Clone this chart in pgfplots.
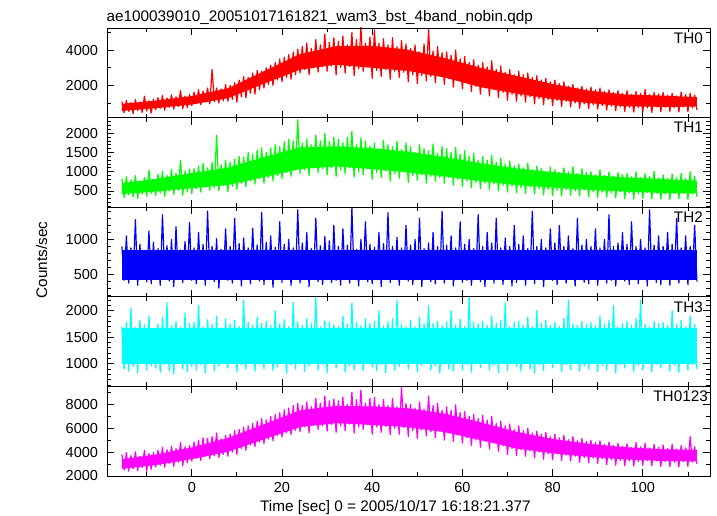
\documentclass[border=0pt]{standalone}
\usepackage{fontspec}
\setmainfont{Liberation Sans}
\usepackage{pgfplots}
\usepackage{pgfplotstable}
\pgfplotsset{compat=1.18}
\definecolor{qred}{RGB}{255,0,0}
\definecolor{qgreen}{RGB}{0,255,0}
\definecolor{qblue}{RGB}{0,0,255}
\definecolor{qcyan}{RGB}{0,255,255}
\definecolor{qmagenta}{RGB}{255,0,255}

% t, TH0, TH1, TH2, TH3, TH0123 (counts/sec), sampled every 0.5 s
\pgfplotstableread{
t a b c d e
-15.5 1080 820 900 1700 3800
-15.0 450 330 420 900 2500
-14.5 1150 870 1050 1780 3950
-14.0 520 400 380 860 2400
-13.5 1020 790 880 2050 3700
-13.0 400 350 460 950 2600
-12.5 1190 900 1280 1690 4020
-12.0 580 310 350 830 2450
-11.5 1060 760 930 1820 3650
-11.0 470 420 440 1000 2700
-10.5 1380 850 830 1730 4150
-10.0 540 360 400 880 2380
-9.5 1120 1040 1120 1900 3880
-9.0 430 440 370 960 2550
-8.5 1210 800 960 1660 3960
-8.0 620 380 430 920 2750
-7.5 1300 930 870 1750 4150
-7.0 700 450 350 840 2900
-6.5 1420 1010 1350 1880 4400
-6.0 590 360 470 990 2720
-5.5 1280 900 910 2150 4200
-5.0 760 500 410 870 3050
-4.5 1460 1060 1000 1720 4500
-4.0 650 410 330 810 2800
-3.5 1350 960 1180 1800 4300
-3.0 800 520 450 1020 3150
-2.5 1700 1300 850 1690 4800
-2.0 680 390 390 900 2850
-1.5 1400 1020 970 1950 4450
-1.0 740 480 460 850 3100
-0.5 1480 1070 1240 1760 4550
0.0 850 430 420 950 3250
0.5 1620 1080 880 1780 4850
1.0 980 560 370 880 3500
1.5 1750 1150 1100 2100 5000
2.0 900 470 440 990 3300
2.5 1680 1220 930 1700 5200
3.0 1060 600 350 830 3650
3.5 1850 1100 1400 1830 5150
4.0 950 520 480 1040 3450
4.5 2900 1240 900 1740 5300
5.0 1090 580 400 870 3700
5.5 1850 1950 1010 1900 5600
6.0 1000 510 310 960 3550
6.5 1800 1180 860 1680 5100
7.0 1120 640 450 1010 3800
7.5 2050 1300 1150 1850 5400
8.0 1100 480 420 920 3650
8.5 2000 1250 900 1750 5500
9.0 1200 620 380 1060 4000
9.5 2150 1330 1300 1820 5800
10.0 1050 550 460 850 3800
10.5 2300 1400 940 1700 5900
11.0 1350 700 340 980 4300
11.5 2500 1380 1020 2200 6100
12.0 1300 610 430 900 4150
12.5 2450 1500 880 1780 6200
13.0 1550 760 370 1050 4600
13.5 2700 1450 1160 1730 6400
14.0 1500 680 480 860 4450
14.5 2850 1560 920 1880 6600
15.0 1750 820 410 990 4850
15.5 2800 1620 1380 1760 6800
16.0 1850 700 360 900 4700
16.5 3000 1500 960 1800 6700
17.0 2050 850 440 1020 5100
17.5 3150 1620 1050 1720 7000
18.0 2000 760 320 870 4950
18.5 3300 1700 890 2000 7150
19.0 2300 900 470 940 5400
19.5 3500 1650 1250 1750 7300
20.0 2200 820 390 1060 5250
20.5 3600 1780 930 1830 7550
21.0 2450 980 430 820 5600
21.5 3750 1850 1000 1700 7700
22.0 2350 880 350 980 5450
22.5 3900 1800 880 2150 7900
23.0 2600 1050 460 900 5800
23.5 4050 2350 1420 1790 8100
24.0 2700 950 380 1000 5700
24.5 4200 1750 950 1720 7900
25.0 2900 1050 450 860 6100
25.5 4400 1850 1100 1850 8200
26.0 2600 900 330 950 5600
26.5 4100 1700 870 1760 7800
27.0 3000 1100 470 1070 6250
27.5 4600 1950 1300 2250 8500
28.0 2750 980 400 880 5900
28.5 4300 1800 910 1700 8100
29.0 3050 1080 360 990 6200
29.5 4900 2000 1040 1810 8700
30.0 2800 920 440 830 5750
30.5 4450 1780 980 1780 8300
31.0 3100 1100 390 1030 6300
31.5 4700 1900 1200 1730 8450
32.0 2600 880 420 920 5650
32.5 4500 1850 900 1700 8300
33.0 3000 1050 350 1000 6200
33.5 4800 1750 1150 1900 8600
34.0 2700 950 470 850 5800
34.5 4300 1900 920 1750 8000
35.0 3080 1100 380 960 6350
35.5 5000 2050 1450 2150 9000
36.0 2550 860 430 890 5600
36.5 4600 1700 860 1780 8400
37.0 2950 1000 340 1050 6100
37.5 5300 1880 1000 1720 9200
38.0 2800 920 460 870 5900
38.5 4400 1800 1250 1850 8100
39.0 3050 1080 400 1000 6300
39.5 4750 1660 930 1760 8500
40.0 2400 800 370 940 5500
40.5 5150 1750 890 1800 8600
41.0 2850 980 450 870 6100
41.5 4400 1600 1100 2000 8000
42.0 2500 850 330 990 5650
42.5 4650 1820 940 1710 8400
43.0 2900 1020 470 830 6150
43.5 4300 1700 1380 1790 7900
44.0 2350 760 390 1020 5450
44.5 4700 1650 900 1850 8500
45.0 2800 950 430 880 6000
45.5 4200 1800 1030 2200 7800
46.0 2450 830 350 950 5500
46.5 4550 1580 880 1740 9450
47.0 2750 1000 460 1060 6050
47.5 4350 1750 1200 1700 8100
48.0 2200 720 410 900 5300
48.5 4100 1650 920 1820 8000
49.0 2600 900 360 1000 5800
49.5 4300 1500 1000 1700 7700
50.0 2100 780 450 850 5150
50.5 3900 1700 1300 1880 8200
51.0 2550 920 330 970 5850
51.5 4350 1600 870 1750 7600
52.0 2250 700 470 1040 5350
52.5 5200 1550 950 2100 8700
53.0 2500 880 400 880 5700
53.5 3950 1720 1100 1760 7900
54.0 2150 760 370 960 5200
54.5 4200 1480 900 1800 8100
55.0 2600 850 440 830 5750
55.5 3850 1650 1400 1720 7500
56.0 2050 700 380 1000 5000
56.5 3900 1600 920 1790 7800
57.0 2400 850 450 900 5600
57.5 3700 1500 1050 2000 7500
58.0 1900 650 340 860 4900
58.5 4000 1630 880 1730 7950
59.0 2300 800 460 1030 5450
59.5 3500 1450 1250 1840 7300
60.0 1800 620 390 880 4750
60.5 3650 1550 930 1700 7400
61.0 2150 760 420 990 5200
61.5 3300 1400 1000 2250 7000
62.0 1650 580 350 840 4550
62.5 3450 1480 870 1780 7150
63.0 1950 720 470 1000 5000
63.5 3150 1300 1350 1750 6800
64.0 1500 560 400 930 4400
64.5 3300 1400 900 1800 7100
65.0 1850 700 330 1050 4900
65.5 3050 1300 1100 1720 6700
66.0 1400 540 450 880 4250
66.5 3400 1420 950 1900 7000
67.0 1750 680 380 970 4800
67.5 2900 1250 1300 1760 6400
68.0 1300 500 430 830 4050
68.5 3100 1350 880 1820 6600
69.0 1600 640 360 1010 4500
69.5 2750 1200 1020 2150 6200
70.0 1150 470 470 870 3800
70.5 2900 1280 900 1700 6350
71.0 1500 620 340 990 4300
71.5 2600 1150 1200 1780 5900
72.0 1100 450 390 950 3700
72.5 2800 1200 930 1800 6200
73.0 1400 580 440 860 4200
73.5 2600 1100 1050 1730 5800
74.0 1050 430 350 1040 3650
74.5 2700 1220 870 1880 6000
75.0 1350 600 460 900 4100
75.5 2450 1050 1400 1700 5600
76.0 950 420 370 820 3500
76.5 2550 1150 900 2000 5750
77.0 1250 560 430 980 4000
77.5 2300 1080 1000 1760 5500
78.0 900 400 330 870 3400
78.5 2400 1000 880 1820 5650
79.0 1200 540 470 1060 3850
79.5 2200 1120 1150 1720 5300
80.0 850 380 420 930 3350
80.5 2300 1050 950 1780 5500
81.0 1150 520 360 1000 3850
81.5 2100 980 1200 1700 5200
82.0 800 370 450 850 3300
82.5 2200 1100 900 1850 5400
83.0 1100 540 380 980 3750
83.5 1950 1000 1050 2200 5050
84.0 780 390 460 890 3250
84.5 2050 1130 870 1750 5300
85.0 1000 500 340 1030 3650
85.5 1850 960 1300 1720 4950
86.0 700 370 430 860 3150
86.5 1950 1080 920 1800 5150
87.0 950 530 390 960 3550
87.5 1800 990 1000 1740 4900
88.0 680 350 370 900 3100
88.5 1900 1000 900 1780 5000
89.0 900 480 450 1000 3500
89.5 1750 920 1150 1720 4800
90.0 650 330 350 850 3050
90.5 1850 1050 880 1900 4950
91.0 850 470 460 970 3450
91.5 1650 900 1000 1750 4650
92.0 600 340 380 880 2950
92.5 1750 1000 1350 1820 4850
93.0 820 450 420 1040 3350
93.5 1600 890 900 2100 4550
94.0 560 320 340 830 2900
94.5 1700 980 950 1700 4750
95.0 780 490 470 990 3300
95.5 1550 930 1100 1760 4500
96.0 520 300 410 920 2850
96.5 1700 960 930 1800 4700
97.0 760 450 360 1010 3250
97.5 1500 870 1250 1730 4400
98.0 480 290 450 860 2830
98.5 1650 1000 900 1850 4800
99.0 740 430 370 970 3200
99.5 1550 850 1000 2200 4450
100.0 500 310 470 880 2900
100.5 1780 950 880 1750 4750
101.0 720 460 340 1020 3300
101.5 1480 880 1420 1700 4350
102.0 460 300 430 850 2850
102.5 1600 1010 920 1800 4650
103.0 780 440 390 990 3250
103.5 1520 840 1050 1760 4400
104.0 500 290 360 920 2800
104.5 1600 920 900 1780 4600
105.0 760 420 450 1030 3200
105.5 1450 820 1100 1720 4300
106.0 520 280 350 860 2780
106.5 1550 940 930 2000 4650
107.0 740 430 460 970 3150
107.5 1400 850 1300 1750 4250
108.0 490 300 380 840 2760
108.5 1620 960 880 1820 4550
109.0 770 440 440 1000 3200
109.5 1480 830 1050 1700 4350
110.0 510 280 360 880 2800
110.5 1550 1000 900 1900 5300
111.0 720 420 470 990 3150
111.5 1450 880 1200 1740 4450
112.0 600 350 400 900 3000
}\data

\pgfplotsset{
  panel/.style={
    anchor=south west, width=603pt, height=89.6pt, scale only axis,
    xmin=-18.8, xmax=114.9,
    xtick={0,20,40,60,80,100}, minor xtick={-10,10,30,50,70,90,110},
    xticklabels={},
    tick pos=both, tick align=inside,
    major tick length=7pt, minor tick length=4pt,
    every tick/.style={black, line width=0.8pt},
    axis line style={black, line width=0.9pt},
    tick label style={font=\fontsize{14.5}{16}\selectfont},
    yticklabel style={xshift=-5.5pt},
    xticklabel style={yshift=-3pt},
    axis on top,
    /pgf/number format/assume math mode=true,
  },
  zig/.style={line width=1.2pt, line join=round, mark=none},
}

\begin{document}
\begin{tikzpicture}
\useasboundingbox (0,0) rectangle (717pt,516pt);

% ---- TH0
\begin{axis}[panel, at={(107pt,398.4pt)},
  ymin=170, ymax=5257,
  ytick={2000,4000}, yticklabels={2000,4000},
  minor ytick={1000,3000,5000}]
\addplot[draw=none, fill=qred] coordinates {
(-15.5,950) (-8,1135) (0,1390) (8,1830) (16,2800) (24,3770) (32,4225) (40,4245)
(48,4020) (56,3550) (64,3000) (72,2530) (80,2075) (88,1700) (96,1485) (104,1420) (112,1330)
(112,790) (104,780) (96,815) (88,1000) (80,1225) (72,1530) (64,1900) (56,2450)
(48,2820) (40,2995) (32,3175) (24,2890) (16,2100) (8,1270) (0,910) (-8,705) (-15.5,550)
} -- cycle;
\addplot[zig, qred] table[x=t, y=a] {\data};
\end{axis}

% ---- TH1
\begin{axis}[panel, at={(107pt,308.8pt)},
  ymin=79, ymax=2406,
  ytick={500,1000,1500,2000}, yticklabels={500,1000,1500,2000},
  minor ytick={100,200,...,2400}]
\addplot[draw=none, fill=qgreen] coordinates {
(-15.5,700) (-8,815) (0,965) (8,1105) (16,1380) (24,1630) (32,1660) (40,1610)
(48,1520) (56,1380) (64,1220) (72,1085) (80,990) (88,910) (96,855) (104,810) (112,765)
(112,435) (104,450) (96,485) (88,530) (80,590) (72,655) (64,760) (56,880)
(48,980) (40,1070) (32,1140) (24,1070) (16,860) (8,655) (0,575) (-8,485) (-15.5,420)
} -- cycle;
\addplot[zig, qgreen] table[x=t, y=b] {\data};
\end{axis}

% ---- TH2
\begin{axis}[panel, at={(107pt,219.2pt)},
  ymin=186, ymax=1457,
  ytick={500,1000}, yticklabels={500,1000},
  minor ytick={200,300,...,1400}]
\addplot[draw=none, fill=qblue] coordinates {
(-15.5,850) (112,850) (112,430) (-15.5,430)} -- cycle;
\addplot[zig, qblue] table[x=t, y=c] {\data};
\end{axis}

% ---- TH3
\begin{axis}[panel, at={(107pt,129.6pt)},
  ymin=574, ymax=2262,
  ytick={1000,1500,2000}, yticklabels={1000,1500,2000},
  minor ytick={600,700,...,2200}]
\addplot[draw=none, fill=qcyan] coordinates {
(-15.5,1680) (112,1680) (112,1000) (-15.5,1000)} -- cycle;
\addplot[zig, qcyan] table[x=t, y=d] {\data};
\end{axis}

% ---- TH0123
\begin{axis}[panel, at={(107pt,40pt)},
  ymin=1995, ymax=9506,
  ytick={2000,4000,6000,8000}, yticklabels={2000,4000,6000,8000},
  minor ytick={3000,5000,7000,9000},
  xticklabels={0,20,40,60,80,100}]
\addplot[draw=none, fill=qmagenta] coordinates {
(-15.5,3400) (-8,3790) (0,4390) (8,5175) (16,6325) (24,7500) (32,7875) (40,7825)
(48,7670) (56,7225) (64,6490) (72,5700) (80,5100) (88,4690) (96,4410) (104,4240) (112,4180)
(112,3220) (104,3260) (96,3390) (88,3610) (80,3900) (72,4300) (64,5010) (56,5675)
(48,6090) (40,6275) (32,6425) (24,6100) (16,5075) (8,4025) (0,3410) (-8,2910) (-15.5,2600)
} -- cycle;
\addplot[zig, qmagenta] table[x=t, y=e] {\data};
\end{axis}

% ---- texts
\begin{scope}[every node/.style={inner sep=0pt, font=\fontsize{15.3}{18}\selectfont}]
\node[anchor=base west] at (106.5pt,494pt) {ae100039010\_20051017161821\_wam3\_bst\_4band\_nobin.qdp};
\node[anchor=base east] at (703pt,472.7pt) {TH0};
\node[anchor=base east] at (703pt,383.1pt) {TH1};
\node[anchor=base east] at (703pt,293.5pt) {TH2};
\node[anchor=base east] at (703pt,203.9pt) {TH3};
\node[anchor=base east] at (708pt,114.3pt) {TH0123};
\node[anchor=base, rotate=90] at (47pt,256pt) {Counts/sec};
\node[anchor=base west] at (260pt,4.3pt) {Time [sec] 0 = 2005/10/17 16:18:21.377};
\end{scope}
\end{tikzpicture}
\end{document}
